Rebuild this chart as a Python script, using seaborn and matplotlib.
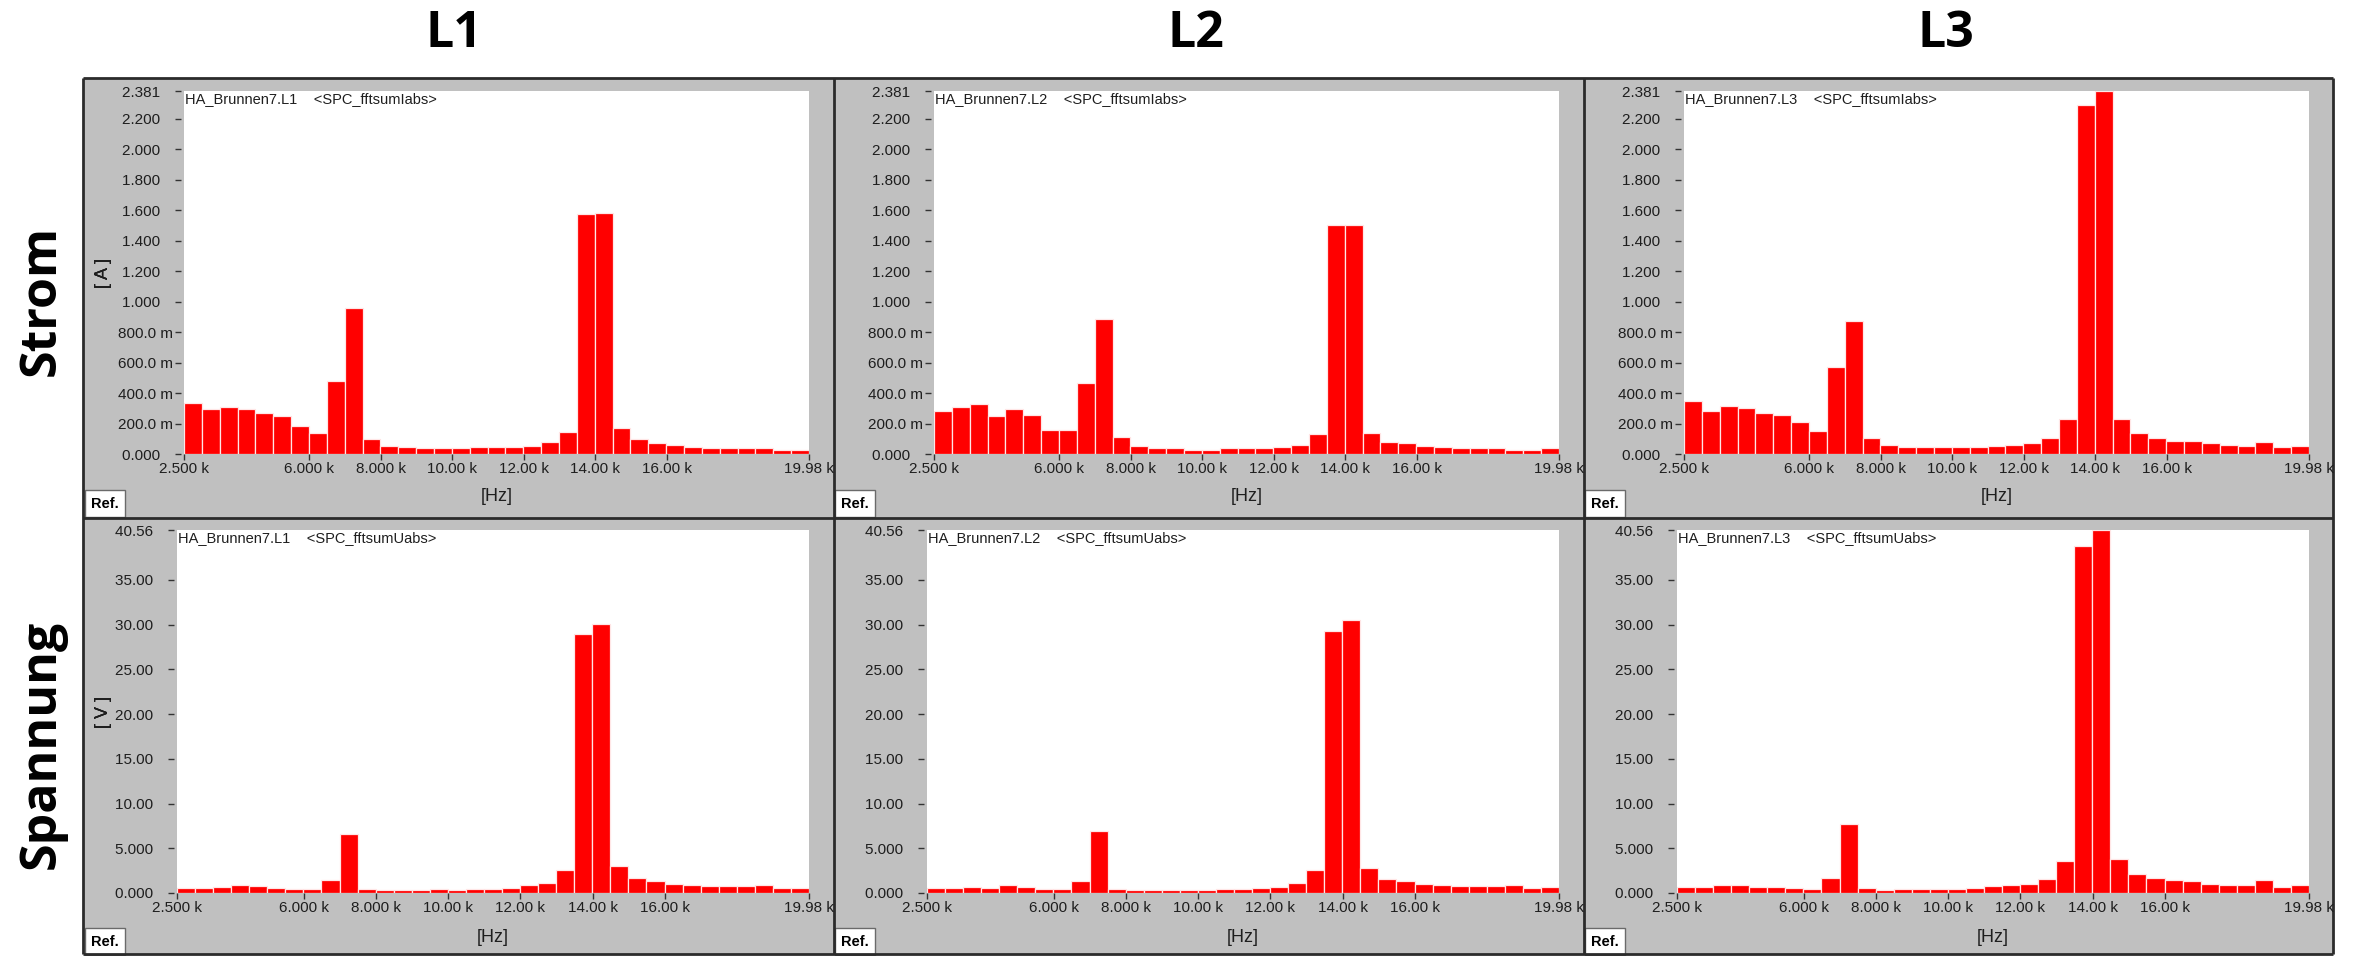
import numpy as np
import pandas as pd
import matplotlib
matplotlib.use("Agg")
import matplotlib.pyplot as plt
from matplotlib.font_manager import FontProperties
from matplotlib.patches import Rectangle
import seaborn as sns

# ---------------------------------------------------------------- data
phases = ["L1", "L2", "L3"]
row_titles = ["Strom", "Spannung"]
channels = ["<SPC_fftsumIabs>", "<SPC_fftsumUabs>"]
units = ["[ A ]", "[ V ]"]

# spectrum band: 35 bins between 2.5 kHz and 19.98 kHz
freq_lo = 2500.0
freq_hi = 19980.0
n_bins = 35

# current magnitude per bin [A]
strom_l1 = [0.334, 0.292, 0.310, 0.292, 0.266, 0.251, 0.185, 0.135, 0.482, 0.957,
            0.096, 0.055, 0.046, 0.037, 0.037, 0.037, 0.046, 0.046, 0.046, 0.055,
            0.078, 0.146, 1.574, 1.583, 0.168, 0.096, 0.070, 0.061, 0.046, 0.037,
            0.037, 0.037, 0.037, 0.028, 0.028]
strom_l2 = [0.283, 0.310, 0.325, 0.251, 0.292, 0.257, 0.155, 0.155, 0.467, 0.885,
            0.113, 0.055, 0.037, 0.037, 0.028, 0.028, 0.037, 0.037, 0.037, 0.046,
            0.061, 0.129, 1.500, 1.500, 0.135, 0.078, 0.070, 0.055, 0.046, 0.037,
            0.037, 0.037, 0.028, 0.028, 0.037]
strom_l3 = [0.349, 0.283, 0.316, 0.299, 0.266, 0.257, 0.209, 0.153, 0.571, 0.874,
            0.102, 0.061, 0.046, 0.046, 0.046, 0.046, 0.046, 0.055, 0.061, 0.070,
            0.102, 0.227, 2.292, 2.381, 0.227, 0.135, 0.102, 0.087, 0.087, 0.070,
            0.061, 0.055, 0.078, 0.046, 0.055]

# voltage magnitude per bin [V]
spannung_l1 = [0.56, 0.56, 0.71, 0.89, 0.74, 0.56, 0.45, 0.45, 1.41, 6.58,
               0.45, 0.30, 0.30, 0.30, 0.45, 0.30, 0.45, 0.45, 0.56, 0.89,
               1.15, 2.53, 28.90, 30.04, 2.97, 1.71, 1.30, 1.00, 0.89, 0.74,
               0.74, 0.74, 0.89, 0.56, 0.56]
spannung_l2 = [0.56, 0.56, 0.71, 0.56, 0.89, 0.71, 0.45, 0.45, 1.30, 6.88,
               0.45, 0.30, 0.30, 0.30, 0.30, 0.30, 0.45, 0.45, 0.56, 0.71,
               1.15, 2.53, 29.33, 30.45, 2.83, 1.56, 1.30, 1.00, 0.89, 0.74,
               0.74, 0.74, 0.89, 0.56, 0.71]
spannung_l3 = [0.71, 0.71, 0.89, 0.89, 0.71, 0.71, 0.56, 0.45, 1.71, 7.73,
               0.56, 0.30, 0.45, 0.45, 0.45, 0.45, 0.56, 0.74, 0.89, 1.00,
               1.56, 3.53, 38.74, 40.56, 3.79, 2.12, 1.71, 1.41, 1.30, 1.00,
               0.89, 0.89, 1.41, 0.71, 0.89]

strom_ymax = 2.381
strom_ticks = [0.0, 0.2, 0.4, 0.6, 0.8, 1.0, 1.2, 1.4, 1.6, 1.8, 2.0, 2.2, 2.381]
strom_ticklabels = ["0.000", "200.0 m", "400.0 m", "600.0 m", "800.0 m", "1.000",
                    "1.200", "1.400", "1.600", "1.800", "2.000", "2.200", "2.381"]

spannung_ymax = 40.56
spannung_ticks = [0, 5, 10, 15, 20, 25, 30, 35, 40.56]
spannung_ticklabels = ["0.000", "5.000", "10.00", "15.00", "20.00", "25.00",
                       "30.00", "35.00", "40.56"]

x_ticks = [2500, 6000, 8000, 10000, 12000, 14000, 16000, 19980]
x_ticklabels = ["2.500 k", "6.000 k", "8.000 k", "10.00 k", "12.00 k",
                "14.00 k", "16.00 k", "19.98 k"]

# ---------------------------------------------------------------- style
sns.set_theme(style="white")
plt.rcParams["font.family"] = ["Liberation Sans", "DejaVu Sans"]

W, H = 2356, 956
DPI = 100
PANEL_GRAY = "#c0c0c0"
FRAME = "#2b2b2b"
TXT = "#1e1e1e"
BAR_RED = "#ff0000"

tick_fp = FontProperties(family=["Liberation Sans", "DejaVu Sans"], size=11)
info_fp = FontProperties(family=["Liberation Sans", "DejaVu Sans"], size=10.5)
label_fp = FontProperties(family=["Liberation Sans", "DejaVu Sans"], size=13)
ref_fp = FontProperties(family=["Liberation Sans", "DejaVu Sans"], weight="bold",
                        size=10.5)
head_fp = FontProperties(family=["Open Sans", "DejaVu Sans"], weight="bold", size=36)

fig = plt.figure(figsize=(W / DPI, H / DPI), dpi=DPI)
fig.patch.set_facecolor("white")

# background canvas in pixel coordinates for the instrument-style frame
bg = fig.add_axes([0, 0, 1, 1], zorder=-5)
bg.set_xlim(0, W)
bg.set_ylim(H, 0)
bg.axis("off")

frame_l, frame_r, frame_t, frame_b = 83, 2333, 78, 954
col_w = 750
row_split = 518
bg.add_patch(Rectangle((frame_l, frame_t), frame_r - frame_l, frame_b - frame_t,
                       facecolor=PANEL_GRAY, edgecolor="none"))
# frame and separators
for x in [frame_l, frame_l + col_w + 1, frame_l + 2 * col_w + 1, frame_r]:
    bg.plot([x, x], [frame_t, frame_b], color=FRAME, lw=2.0, solid_capstyle="butt")
for y in [frame_t, row_split, frame_b]:
    bg.plot([frame_l, frame_r], [y, y], color=FRAME, lw=2.0, solid_capstyle="butt")

# column and row headings
title_x = [454, 1196, 1946]
for name, x in zip(phases, title_x):
    bg.text(x, 34, name, ha="center", va="center", fontproperties=head_fp,
            color="black")
for name, y in zip(row_titles, [300, 744]):
    bg.text(42, y, name, ha="center", va="center", rotation=90,
            fontproperties=head_fp, color="black")

# "Ref." tabs at the lower-left corner of each panel
for c in range(3):
    for ytab in [490, 928]:
        x0 = frame_l + 2 + c * col_w
        bg.add_patch(Rectangle((x0, ytab), 40, 27, facecolor="white",
                               edgecolor="#6a6a6a", lw=1.0))
        bg.text(x0 + 20, ytab + 14, "Ref.", ha="center", va="center",
                fontproperties=ref_fp, color="black")

# plot-area rectangles in pixels: (left, right, top, bottom)
areas = [(184, 809, 91, 454), (177, 809, 530, 893)]

series = [[strom_l1, strom_l2, strom_l3], [spannung_l1, spannung_l2, spannung_l3]]
ymaxes = [strom_ymax, spannung_ymax]
yticks = [strom_ticks, spannung_ticks]
yticklabels = [strom_ticklabels, spannung_ticklabels]

bin_w = (freq_hi - freq_lo) / n_bins
centers = freq_lo + bin_w * (np.arange(n_bins) + 0.5)

for r in range(2):
    l, rr, t, b = areas[r]
    for c in range(3):
        left = l + c * col_w
        right = rr + c * col_w
        ax = fig.add_axes([left / W, 1 - b / H, (right - left) / W, (b - t) / H])
        ax.set_facecolor("white")
        df = pd.DataFrame({"freq": centers, "amp": series[r][c]})
        sns.histplot(data=df, x="freq", weights="amp", bins=n_bins,
                     binrange=(freq_lo, freq_hi), stat="count",
                     color=BAR_RED, alpha=1.0, edgecolor="#ffe6e6", linewidth=0.9,
                     ax=ax)
        ax.set_xlim(freq_lo, freq_hi)
        ax.set_ylim(0, ymaxes[r])

        for s in ax.spines.values():
            s.set_visible(False)
        ax.spines["left"].set_position(("outward", 2.5))

        ax.set_xticks(x_ticks)
        ax.set_xticklabels(x_ticklabels)
        ax.set_yticks(yticks[r])
        # numbers without a unit prefix keep the " m" slot free
        ax.set_yticklabels([lab if lab.endswith("m") else lab + "   "
                            for lab in yticklabels[r]])
        ax.tick_params(axis="both", which="major", labelcolor=TXT,
                       color="#333333", width=1.0)
        ax.tick_params(axis="x", bottom=True, direction="out", length=4, pad=2)
        ax.tick_params(axis="y", left=True, direction="out", length=4, pad=1.5)
        for lab in ax.get_xticklabels() + ax.get_yticklabels():
            lab.set_fontproperties(tick_fp)
        ax.grid(False)

        ax.set_xlabel("[Hz]", fontproperties=label_fp, color=TXT, va="center")
        ax.set_ylabel(units[r], fontproperties=label_fp, color=TXT, va="center")
        ax.xaxis.set_label_coords(0.5, -0.117 if r == 0 else -0.123)
        ax.yaxis.set_label_coords((104 - left) / (right - left), 0.5)

        ax.text(0.002, 1 - 8 / (b - t), f"HA_Brunnen7.{phases[c]}    {channels[r]}",
                transform=ax.transAxes, ha="left", va="center",
                fontproperties=info_fp, color=TXT)

fig.savefig("out.png", dpi=DPI, facecolor="white")
